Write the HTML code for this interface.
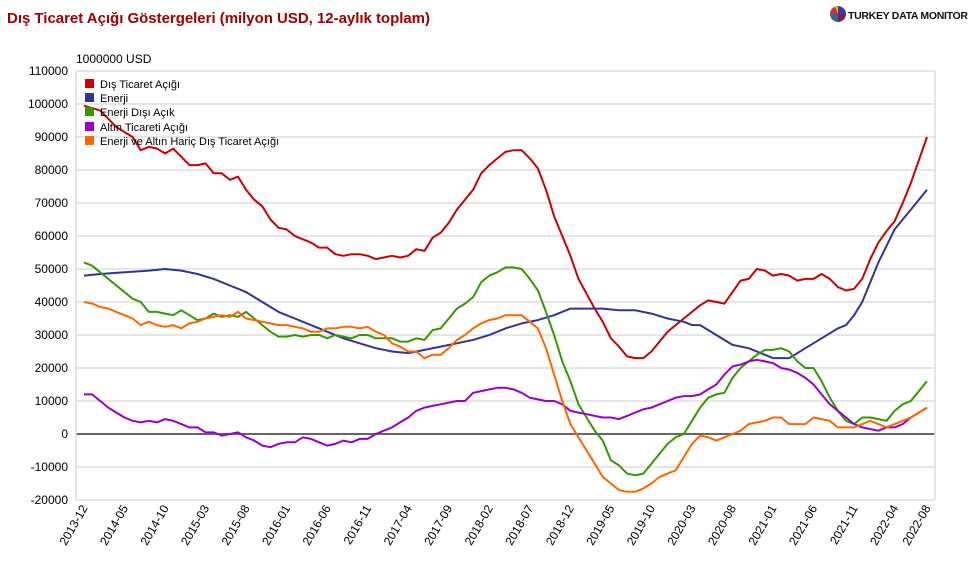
<!DOCTYPE html>
<html><head><meta charset="utf-8"><style>
body{margin:0;background:#fff;width:979px;height:570px;overflow:hidden;font-family:"Liberation Sans",Arial,sans-serif}
</style></head><body>
<svg id="c" width="979" height="570" xmlns="http://www.w3.org/2000/svg" font-family="Liberation Sans, Arial, sans-serif">
<text x="7" y="23" font-size="15" font-weight="bold" fill="#a00000" textLength="423">Dış Ticaret Açığı Göstergeleri (milyon USD, 12-aylık toplam)</text>
<g transform="translate(838,14)">
<path d="M0,0 L0,-8 A8,8 0 0 1 8,0 Z" fill="#3a3ab0"/>
<path d="M0,0 L8,0 A8,8 0 0 1 0,8 Z" fill="#7a2040"/>
<path d="M0,0 L0,8 A8,8 0 0 1 -8,0 Z" fill="#2a6aa0"/>
<path d="M0,0 L-8,0 A8,8 0 0 1 0,-8 Z" fill="#d03030"/>
<path d="M0,0 L-3,-7.4 A8,8 0 0 1 0,-8 Z" fill="#f0b020"/>
</g>
<text x="848" y="19" font-size="10.5" font-weight="bold" fill="#111" textLength="120">TURKEY DATA MONITOR</text>
<text x="76" y="63" font-size="12" fill="#000">1000000 USD</text>
<g id="grid"></g>
<g id="series" fill="none" stroke-width="2" stroke-linejoin="round"></g>
<g font-size="11" fill="#000">
<rect x="85" y="79" width="9" height="9" fill="#cc0000"/><text x="100" y="88">Dış Ticaret Açığı</text>
<rect x="85" y="93" width="9" height="9" fill="#333399"/><text x="100" y="102">Enerji</text>
<rect x="85" y="107" width="9" height="9" fill="#339900"/><text x="100" y="116">Enerji Dışı Açık</text>
<rect x="85" y="122" width="9" height="9" fill="#9900cc"/><text x="100" y="131">Altın Ticareti Açığı</text>
<rect x="85" y="136" width="9" height="9" fill="#ff6600"/><text x="100" y="145">Enerji ve Altın Hariç Dış Ticaret Açığı</text>
</g>
</svg>
<script>
const NS="http://www.w3.org/2000/svg";
const Y=v=>434-v*3.3, X=i=>84+i*8.106;
const g=document.getElementById('grid');
function el(t,a,p,txt){const e=document.createElementNS(NS,t);for(const k in a)e.setAttribute(k,a[k]);if(txt!==undefined)e.textContent=txt;p.appendChild(e);return e;}
for(let v=-20;v<=110;v+=10){const y=Y(v);
 el('line',{x1:76,x2:935,y1:y,y2:y,stroke:v==0?'#666':'#ddd','stroke-width':v==0?2:1.5},g);
 el('text',{x:68,y:y+4,'text-anchor':'end','font-size':12},g,String(v*1000));}
el('line',{x1:76,x2:76,y1:Y(110),y2:Y(-20),stroke:'#ddd','stroke-width':1.5},g);
el('line',{x1:935,x2:935,y1:Y(110),y2:Y(-20),stroke:'#ddd','stroke-width':1.5},g);
const labs=['2013-12','2014-05','2014-10','2015-03','2015-08','2016-01','2016-06','2016-11','2017-04','2017-09','2018-02','2018-07','2018-12','2019-05','2019-10','2020-03','2020-08','2021-01','2021-06','2021-11','2022-04'];
const idx=labs.map((_,k)=>k*5);labs.push('2022-08');idx.push(104);
labs.forEach((l,k)=>{const x=X(idx[k])+4;el('text',{x:x,y:508,'text-anchor':'end','font-size':12,transform:`rotate(-60 ${x} 508)`},g,l);});
const S=[
['#cc0000',{0:99.5,2:98,4:93,6:90,7:86,8:87,9:86.5,10:85,11:86.5,12:84,13:81.5,14:81.5,15:82,16:79,17:79,18:77,19:78,20:74,21:71,22:69,23:65,24:62.5,25:62,26:60,27:59,28:58,29:56.5,30:56.5,31:54.5,32:54,33:54.5,34:54.5,35:54,36:53,37:53.5,38:54,39:53.5,40:54,41:56,42:55.5,43:59.5,44:61,45:64,46:68,47:71,48:74,49:79,50:81.5,51:83.5,52:85.5,53:86,54:86,55:83.5,56:80.5,57:74,58:66,59:60,60:54,61:47,62:42.5,63:38,64:34,65:29,66:26.5,67:23.5,68:23,69:23,70:25,71:28,72:31,73:33,74:35,75:37,76:39,77:40.5,78:40,79:39.5,80:43,81:46.5,82:47,83:50,84:49.5,85:48,86:48.5,87:48,88:46.5,89:47,90:47,91:48.5,92:47,93:44.5,94:43.5,95:44,96:47,97:53,98:58,99:61.5,100:64.5,101:70,102:76,103:83,104:90}],
['#333399',{0:48,2:48.5,5:49,8:49.5,10:50,12:49.5,14:48.5,16:47,18:45,20:43,22:40,24:37,26:35,28:33,30:31,32:29,34:27.5,36:26,38:25,40:24.5,42:25.5,44:26.5,46:27.5,48:28.5,50:30,52:32,54:33.5,56:34.5,58:36,60:38,62:38,64:38,66:37.5,68:37.5,70:36.5,72:35,74:34,75:33,76:33,78:30,80:27,82:26,84:24,85:23,87:23,89:26,91:29,93:32,94:33,95:36,96:40,97:46,98:52,99:57,100:62,101:65,102:68,103:71,104:74}],
['#339900',{0:52,1:51,2:49,4:45,6:41,7:40,8:37,9:37,10:36.5,11:36,12:37.5,13:36,14:34.5,15:35,16:36.5,17:35.5,18:36,19:35.5,20:37,21:35,22:33,23:31,24:29.5,25:29.5,26:30,27:29.5,28:30,29:30,30:29,31:30,32:29.5,33:29,34:30,35:30,36:29,37:29,38:29,39:28,40:28,41:29,42:28.5,43:31.5,44:32,45:35,46:38,47:39.5,48:41.5,49:46,50:48,51:49,52:50.5,53:50.5,54:50,55:47,56:43.5,57:37,58:30,59:22,60:16,61:9,62:5,63:1,64:-2,65:-8,66:-9.5,67:-12,68:-12.5,69:-12,70:-9,71:-6,72:-3,73:-1,74:0,75:4,76:8,77:11,78:12,79:12.5,80:17,81:20,82:22,83:24,84:25.5,85:25.5,86:26,87:25,88:22,89:20,90:20,91:16,92:11,93:7,94:4,95:3,96:5,97:5,98:4.5,99:4,100:7,101:9,102:10,103:13,104:16}],
['#9900cc',{0:12,1:12,2:10,3:8,4:6.5,5:5,6:4,7:3.5,8:4,9:3.5,10:4.5,11:4,12:3,13:2,14:2,15:0.5,16:0.5,17:-0.5,18:0,19:0.5,20:-1,21:-2,22:-3.5,23:-4,24:-3,25:-2.5,26:-2.5,27:-1,28:-1.5,29:-2.5,30:-3.5,31:-3,32:-2,33:-2.5,34:-1.5,35:-1.5,36:0,37:1,38:2,39:3.5,40:5,41:7,42:8,43:8.5,44:9,45:9.5,46:10,47:10,48:12.5,49:13,50:13.5,51:14,52:14,53:13.5,54:12.5,55:11,56:10.5,57:10,58:10,59:9,60:7,61:6.5,62:6,63:5.5,64:5,65:5,66:4.5,67:5.5,68:6.5,69:7.5,70:8,71:9,72:10,73:11,74:11.5,75:11.5,76:12,77:13.5,78:15,79:18,80:20.5,81:21,82:22,83:22.5,84:22,85:21.5,86:20,87:19.5,88:18.5,89:17,90:15,91:12,92:9,93:7,94:5,95:3,96:2,97:1.5,98:1,99:2,100:2,101:3,102:5,103:6.5,104:8}],
['#ff6600',{0:40,1:39.5,2:38.5,3:38,4:37,5:36,6:35,7:33,8:34,9:33,10:32.5,11:33,12:32,13:33.5,14:34,15:35,16:35.5,17:36,18:35.5,19:37,20:35,21:34.5,22:34,23:33.5,24:33,25:33,26:32.5,27:32,28:31,29:31,30:32,31:32,32:32.5,33:32.5,34:32,35:32.5,36:31,37:30,38:27.5,39:26.5,40:25,41:25,42:23,43:24,44:24,45:26,46:28.5,47:30,48:32,49:33.5,50:34.5,51:35,52:36,53:36,54:36,55:34,56:32,57:26,58:18,59:10,60:3,61:-1,62:-5,63:-9,64:-13,65:-15,66:-17,67:-17.5,68:-17.5,69:-16.5,70:-15,71:-13,72:-12,73:-11,74:-7,75:-3,76:-0.5,77:-1,78:-2,79:-1,80:0,81:1,82:3,83:3.5,84:4,85:5,86:5,87:3,88:3,89:3,90:5,91:4.5,92:4,93:2,94:2,95:2,96:3,97:4,98:3,99:2,100:3,101:4,102:5,103:6.5,104:8}]
];
const sg=document.getElementById('series');
S.forEach(([c,d])=>{const pts=Object.keys(d).map(Number).sort((a,b)=>a-b).map(i=>X(i).toFixed(1)+','+Y(d[i]).toFixed(1)).join(' ');
 el('polyline',{points:pts,stroke:c},sg);});
</script>
</body></html>
